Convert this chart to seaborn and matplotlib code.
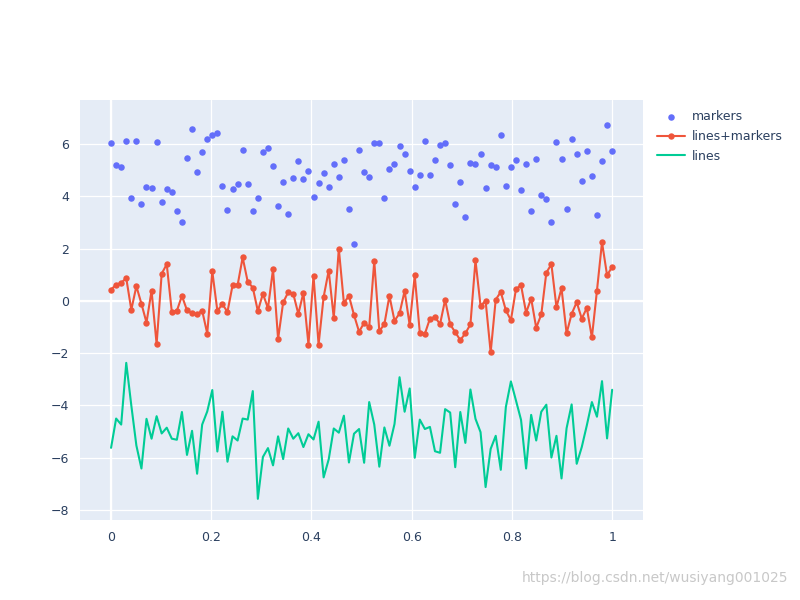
import numpy as np
import pandas as pd
import matplotlib
matplotlib.use("Agg")
import matplotlib.pyplot as plt
import seaborn as sns

# valores (100 puntos, x de 0 a 1)
markers_y = [6.03, 5.2, 5.13, 6.1, 3.92, 6.12, 3.72, 4.35, 4.32, 6.09,
             3.78, 4.27, 4.18, 3.44, 3.03, 5.45, 6.56, 4.91, 5.68, 6.19,
             6.35, 6.42, 4.4, 3.46, 4.27, 4.47, 5.77, 4.47, 3.42, 3.95,
             5.71, 5.86, 5.14, 3.63, 4.55, 3.31, 4.69, 5.35, 4.67, 4.96,
             3.99, 4.5, 4.88, 4.35, 5.24, 4.74, 5.4, 3.51, 2.18, 5.77,
             4.91, 4.74, 6.03, 6.05, 3.94, 5.03, 5.24, 5.91, 5.62, 4.96,
             4.35, 4.83, 6.13, 4.82, 5.37, 5.96, 6.05, 5.18, 3.69, 4.53,
             3.21, 5.27, 5.24, 5.6, 4.33, 5.18, 5.1, 6.35, 4.41, 5.13,
             5.37, 4.24, 5.23, 3.44, 5.41, 4.03, 3.9, 3.03, 6.06, 5.44,
             3.51, 6.19, 5.6, 4.6, 5.72, 4.76, 3.28, 5.33, 6.74, 5.74]

lines_markers_y = [0.43, 0.62, 0.69, 0.87, -0.34, 0.56, -0.11, -0.83, 0.39, -1.66,
                   1.04, 1.4, -0.42, -0.38, 0.19, -0.36, -0.48, -0.52, -0.37, -1.25,
                   1.13, -0.38, -0.13, -0.42, 0.59, 0.6, 1.66, 0.73, 0.51, -0.39,
                   0.27, -0.28, 1.21, -1.46, -0.06, 0.33, 0.27, -0.5, 0.31, -1.67,
                   0.96, -1.67, 0.15, 1.16, -0.65, 1.99, -0.08, 0.19, -0.54, -1.18,
                   -0.84, -1.01, 1.52, -1.16, -0.89, 0.19, -0.76, -0.48, 0.38, -0.93,
                   0.97, -1.22, -1.26, -0.68, -0.62, -0.89, 0.04, -0.9, -1.2, -1.5,
                   -1.24, -0.9, 1.55, -0.19, 0.0, -1.97, 0.05, 0.34, -0.36, -0.74,
                   0.45, 0.6, -0.45, 0.09, -1.03, -0.52, 1.08, 1.4, -0.24, 0.48,
                   -1.24, -0.5, -0.05, -0.68, -0.27, -1.4, 0.39, 2.24, 0.98, 1.3]

lines_y = [-5.62, -4.5, -4.73, -2.37, -4.0, -5.53, -6.41, -4.51, -5.27, -4.41,
           -5.07, -4.85, -5.27, -5.31, -4.25, -5.89, -4.97, -6.61, -4.73, -4.23,
           -3.41, -5.76, -4.24, -6.15, -5.18, -5.34, -4.5, -4.54, -3.45, -7.57,
           -5.97, -5.63, -6.29, -5.18, -6.05, -4.88, -5.27, -5.06, -5.59, -5.1,
           -5.3, -4.62, -6.75, -6.06, -4.88, -5.04, -4.39, -6.18, -5.08, -4.9,
           -6.19, -3.87, -4.73, -6.34, -4.84, -5.54, -4.71, -2.92, -4.24, -3.35,
           -6.0, -4.54, -4.9, -4.82, -5.75, -5.81, -4.14, -4.27, -6.36, -4.25,
           -5.43, -3.39, -4.51, -5.02, -7.12, -5.66, -5.16, -6.46, -4.06, -3.08,
           -3.81, -4.55, -6.41, -4.36, -5.34, -4.24, -3.97, -5.99, -5.16, -6.79,
           -4.87, -3.96, -6.23, -5.59, -4.76, -3.87, -4.43, -3.07, -5.26, -3.4]

x_vals = np.linspace(0, 1, 100)
x_ticks = [0, 0.2, 0.4, 0.6, 0.8, 1]
x_labels = ["0", "0.2", "0.4", "0.6", "0.8", "1"]
y_ticks = [-8, -6, -4, -2, 0, 2, 4, 6]
y_labels = ["\u22128", "\u22126", "\u22124", "\u22122", "0", "2", "4", "6"]

df = pd.DataFrame({"x": x_vals, "markers": markers_y,
                   "lines+markers": lines_markers_y, "lines": lines_y})

sns.set_theme(style="white")
plt.rcParams["font.family"] = ["DejaVu Sans"]
texto = "#2a3f5f"

fig = plt.figure(figsize=(8, 6), dpi=100)
ax = fig.add_axes([0.1, 0.1333, 0.704, 0.7])
ax.set_facecolor("#E5ECF6")

sns.scatterplot(data=df, x="x", y="markers", ax=ax, color="#636efa", s=22,
                linewidth=0, label="markers", zorder=3)
sns.lineplot(data=df, x="x", y="lines+markers", ax=ax, color="#EF553B",
             linewidth=1.5, marker="o", markersize=4.6, markeredgewidth=0,
             label="lines+markers", zorder=3)
sns.lineplot(data=df, x="x", y="lines", ax=ax, color="#00cc96",
             linewidth=1.5, label="lines", zorder=3)

ax.set_xlim(-0.062, 1.062)
ax.set_ylim(-8.38, 7.68)
ax.set_xticks(x_ticks)
ax.set_xticklabels(x_labels)
ax.set_yticks(y_ticks)
ax.set_yticklabels(y_labels)
ax.grid(True, color="white", linewidth=0.9)
ax.axhline(0, color="white", linewidth=1.6, zorder=1)
ax.axvline(0, color="white", linewidth=1.6, zorder=1)
ax.set_axisbelow(True)
for s in ax.spines.values():
    s.set_visible(False)
ax.tick_params(length=0, labelsize=9, colors=texto, pad=8)
ax.set_xlabel("")
ax.set_ylabel("")

handles, labels = ax.get_legend_handles_labels()
ax.get_legend().remove()
fig.legend(handles, labels, loc="upper left", bbox_to_anchor=(0.815, 0.825),
           frameon=False, fontsize=9, labelcolor=texto, handlelength=2.2,
           handletextpad=0.6, labelspacing=0.55, borderaxespad=0)

fig.text(0.985, 0.025, "https://blog.csdn.net/wusiyang001025", ha="right",
         va="bottom", fontsize=10, color="#c8c8c8")

fig.savefig("out.png", dpi=100)
